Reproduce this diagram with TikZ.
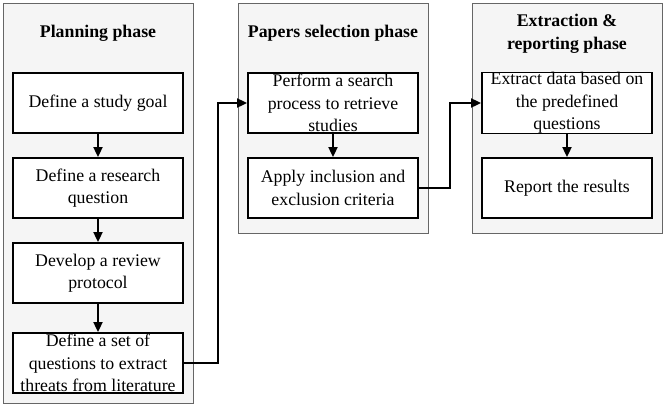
\documentclass[tikz,border=0pt]{standalone}
\usepackage{fontspec}
\setmainfont{Liberation Serif}
\usetikzlibrary{arrows.meta}
\definecolor{panelgray}{RGB}{245,245,245}
\definecolor{panelline}{RGB}{102,102,102}

\tikzset{
  phase/.style={draw=panelline, fill=panelgray, line width=1pt, minimum width=190pt, inner sep=0pt},
  stepbox/.style={draw=black, fill=white, line width=1.8pt, minimum width=170pt, minimum height=60pt,
                  align=center, inner sep=0pt, font=\fontsize{17.8}{22.5}\selectfont},
  phasetitle/.style={font=\fontsize{17.8}{23}\selectfont\bfseries, align=center},
  flow/.style={-{Triangle[length=10pt,width=9pt]}, line width=1.8pt}
}

\begin{document}
\begin{tikzpicture}[x=1pt, y=-1pt]
            \useasboundingbox (0,0) rectangle (665,408);
            % Phase panels
            \node[phase, minimum height=400pt] (planning)  at ( 98, 203) {};
            \node[phase, minimum height=230pt] (selection) at (333, 118) {};
            \node[phase, minimum height=230pt] (reporting) at (567, 118) {};
            % Titles
            \node[phasetitle] (planningtitle)  at ( 98, 33) {Planning phase};
            \node[phasetitle] (selectiontitle) at (333, 33) {Papers selection phase};
            \node[phasetitle] (reportingtitle) at (567, 34) {Extraction \&\\reporting phase};
            % Planning steps
            \node[stepbox] (goal)      at ( 98, 103) {Define a study goal};
            \node[stepbox] (question)  at ( 98, 188) {Define a research\\question};
            \node[stepbox] (protocol)  at ( 98, 273) {Develop a review\\protocol};
            \node[stepbox] (threats)   at ( 98, 363) {Define a set of\\questions to extract\\threats from literature};
            % Selection steps
            \node[stepbox] (search)    at (333, 103) {Perform a search\\process to retrieve\\studies};
            \node[stepbox] (criteria)  at (333, 188) {Apply inclusion and\\exclusion criteria};
            % Reporting steps
            \node[stepbox] (extract)   at (567, 103) {Extract data based on\\the predefined\\questions};
            \node[stepbox] (results)   at (567, 188) {Report the results};
            % Connectors
            \draw[flow] (goal) -- (question);
            \draw[flow] (question) -- (protocol);
            \draw[flow] (protocol) -- (threats);
            \draw[flow] (threats.east) -- ++(34,0) |- (search.west);
            \draw[flow] (search) -- (criteria);
            \draw[flow] (criteria.east) -- ++(31,0) |- (extract.west);
            \draw[flow] (extract) -- (results);
        \end{tikzpicture}
\end{document}
